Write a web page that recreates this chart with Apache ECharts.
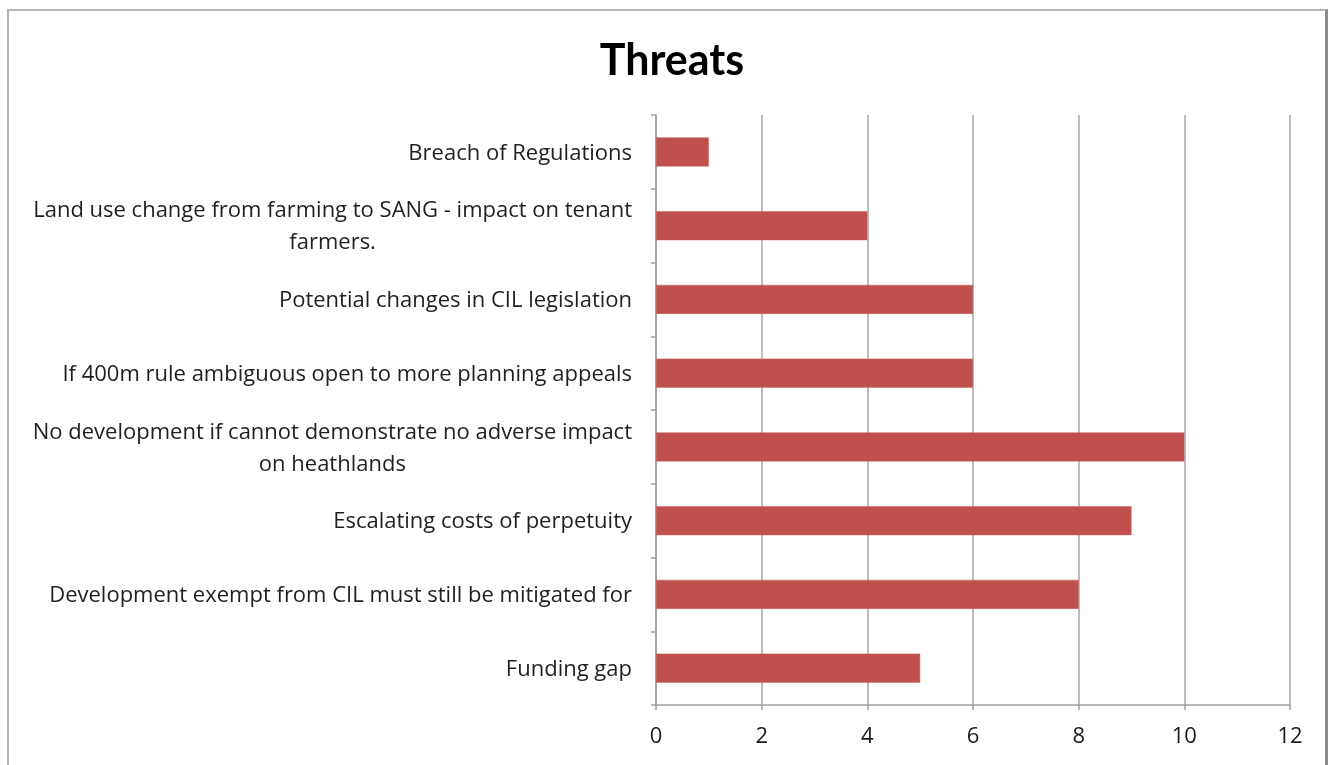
<!DOCTYPE html>
<html>
<head>
<meta charset="utf-8">
<script src="https://cdn.jsdelivr.net/npm/echarts@6/dist/echarts.min.js"></script>
<style>
  html, body { margin: 0; padding: 0; background: #fff; }
  #frame {
    position: absolute; left: 7px; top: 9px; width: 1321px; height: 770px;
    border-top: 2px solid #b4b4b4; border-left: 2px solid #b4b4b4;
    border-right: 3px solid #8c8c8c; box-sizing: border-box;
  }
  #chart { position: absolute; left: 0; top: 0; width: 1334px; height: 765px; }
</style>
</head>
<body>
<div id="frame"></div>
<div id="chart"></div>
<script>
// Threat categories, listed from top to bottom
const categories = [
  'Breach of Regulations',
  'Land use change from farming to SANG - impact on tenant\nfarmers.',
  'Potential changes in CIL legislation',
  'If 400m rule ambiguous open to more planning appeals',
  'No development if cannot demonstrate no adverse impact\non heathlands',
  'Escalating costs of perpetuity',
  'Development exempt from CIL must still be mitigated for',
  'Funding gap'
];
const counts = [1, 4, 6, 6, 10, 9, 8, 5];
const xTicks = { min: 0, max: 12, interval: 2 };

const chart = echarts.init(document.getElementById('chart'), null, { renderer: 'canvas' });
const labelFont = '"Open Sans", sans-serif';
const titleFont = 'Lato, sans-serif';

chart.setOption({
  backgroundColor: 'transparent',
  animation: false,
  title: {
    text: 'Threats',
    left: 667, top: 35, textAlign: 'center',
    textStyle: { fontFamily: titleFont, fontWeight: 'bold', fontSize: 43, color: '#000' }
  },
  grid: { left: 656, right: 44, top: 115, bottom: 60, containLabel: false },
  xAxis: {
    type: 'value',
    min: xTicks.min, max: xTicks.max, interval: xTicks.interval,
    axisLine: { show: true, lineStyle: { color: '#a0a0a0', width: 1.5 } },
    axisTick: { show: true, length: 5, lineStyle: { color: '#a0a0a0', width: 1.5 } },
    axisLabel: { margin: 21, fontFamily: labelFont, fontSize: 22, color: '#1a1a1a' },
    splitLine: { show: true, lineStyle: { color: '#a6a6a6', width: 1.5 } }
  },
  yAxis: {
    type: 'category',
    inverse: true,
    data: categories,
    axisLine: { show: true, lineStyle: { color: '#a0a0a0', width: 1.5 } },
    axisTick: { show: true, length: 5, lineStyle: { color: '#a0a0a0', width: 1.5 } },
    axisLabel: {
      margin: 24,
      formatter: v => v.split('\n').map(s => '{c|' + s + '}').join('\n'),
      rich: {
        c: { align: 'center', fontFamily: labelFont, fontSize: 22, color: '#1f1f1f', lineHeight: 32, padding: [3, 0, 0, 0] }
      }
    }
  },
  series: [{
    type: 'bar',
    data: counts,
    barWidth: 29,
    itemStyle: { color: '#c0504d', borderColor: '#c9625f', borderWidth: 0.5 }
  }]
});
</script>
</body>
</html>
